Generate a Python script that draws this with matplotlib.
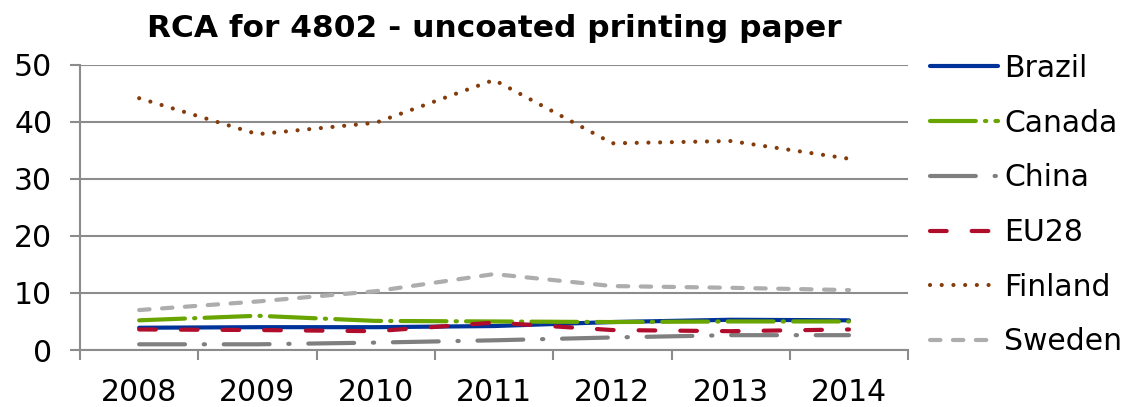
import matplotlib
matplotlib.use("Agg")
import matplotlib.pyplot as plt

years = ["2008", "2009", "2010", "2011", "2012", "2013", "2014"]

brazil = [3.9, 4.0, 4.0, 4.2, 4.9, 5.3, 5.2]
canada = [5.2, 6.0, 5.1, 5.0, 4.9, 5.0, 5.0]
china = [1.0, 1.0, 1.3, 1.7, 2.2, 2.6, 2.6]
eu28 = [3.6, 3.5, 3.3, 4.8, 3.5, 3.3, 3.6]
finland = [44.1, 37.8, 39.8, 47.3, 36.2, 36.6, 33.5]
sweden = [7.0, 8.5, 10.3, 13.3, 11.2, 10.9, 10.5]

series = [
    ("Brazil", brazil, "#003399", None),
    ("Canada", canada, "#69A500", (11, 2.2, 0.3, 2.2)),
    ("China", china, "#7F7F7F", (11, 4.5, 0.3, 4.5)),
    ("EU28", eu28, "#B00C2C", (4, 6)),
    ("Finland", finland, "#843C0C", (0.01, 2.8)),
    ("Sweden", sweden, "#ADADAD", (2.5, 3)),
]

plt.rcParams["font.family"] = ["DejaVu Sans"]

fig = plt.figure(figsize=(11.38, 4.07), dpi=100)
ax = fig.add_axes([0.0703, 0.140, 0.7277, 0.7015])

x = list(range(len(years)))
for name, vals, color, dashes in series:
    (line,) = ax.plot(x, vals, color=color, lw=3, label=name,
                      solid_capstyle="round", dash_capstyle="round")
    if dashes is not None:
        line.set_dashes(dashes)

grid_c = "#8C8C8C"
ax.set_ylim(0, 50)
ax.set_yticks(range(0, 51, 10))
ax.set_xlim(-0.5, len(years) - 0.5)
ax.yaxis.grid(True, color=grid_c, lw=1.5, zorder=0)
ax.set_axisbelow(True)

# category boundaries get the tick marks, centers get the labels
ax.set_xticks([i - 0.5 for i in range(len(years) + 1)])
ax.set_xticklabels([])
ax.set_xticks(x, minor=True)
ax.set_xticklabels(years, minor=True)
ax.tick_params(axis="x", which="major", length=7, width=1.5, color=grid_c)
ax.tick_params(axis="x", which="minor", length=0, pad=20, labelsize=21.5)
ax.tick_params(axis="y", length=7, width=1.5, color=grid_c, pad=13, labelsize=21.5)

for s in ["top", "right"]:
    ax.spines[s].set_visible(False)
for s in ["left", "bottom"]:
    ax.spines[s].set_color(grid_c)
    ax.spines[s].set_linewidth(1.5)

ax.set_title("RCA for 4802 - uncoated printing paper", fontsize=22.5,
             fontweight="bold", pad=20)

fig.legend(loc="center left", bbox_to_anchor=(0.817, 0.496), frameon=False,
           fontsize=21.5, borderpad=0, borderaxespad=0, handlelength=2.3,
           handletextpad=0.2, labelspacing=0.86)

fig.savefig("out.png", dpi=100)
